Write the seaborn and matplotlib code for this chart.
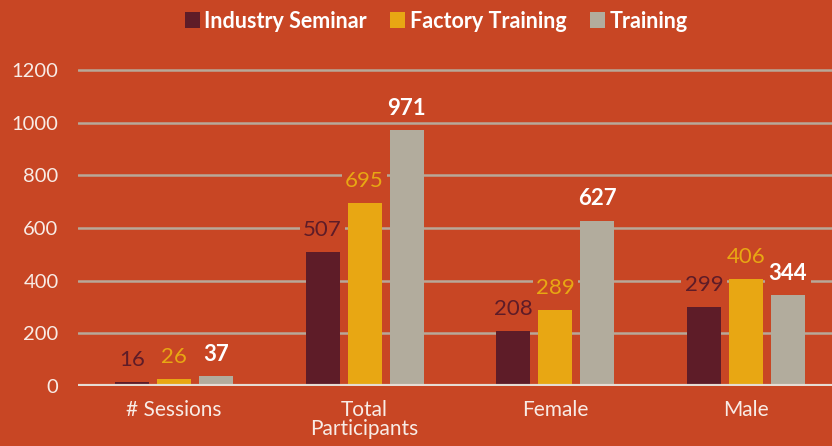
import matplotlib
matplotlib.use("Agg")
import matplotlib.pyplot as plt
import seaborn as sns
import pandas as pd

categories = ["# Sessions", "Total\nParticipants", "Female", "Male"]
series = ["Industry Seminar", "Factory Training", "Training"]
industry_seminar = [16, 507, 208, 299]
factory_training = [26, 695, 289, 406]
training = [37, 971, 627, 344]

BG = "#C84624"
colors = ["#5E1C28", "#E8A713", "#B2AC9D"]
label_colors = ["#5E1C28", "#E8A713", "#FFFFFF"]
label_weights = ["normal", "normal", "bold"]

rows = []
for s, vals in zip(series, [industry_seminar, factory_training, training]):
    for c, v in zip(categories, vals):
        rows.append({"category": c, "series": s, "value": v})
df = pd.DataFrame(rows)

sns.set_style("white")
plt.rcParams["font.family"] = ["Lato", "DejaVu Sans"]

fig = plt.figure(figsize=(8.32, 4.46), dpi=100, facecolor=BG)
ax = fig.add_axes([78 / 832, 1 - 386 / 446, 1 - 78 / 832, (386 - 70) / 446 * (1300 / 1200)])
ax.set_facecolor(BG)

sns.barplot(data=df, x="category", y="value", hue="series", order=categories,
            hue_order=series, palette=colors, width=0.66, gap=0.19,
            saturation=1, ax=ax, legend=False, zorder=2,
            edgecolor="none", linewidth=0)

ax.set_xlim(-0.503, 3.451)
ax.set_ylim(0, 1300)
ax.set_yticks(range(0, 1201, 200))
ax.yaxis.grid(True, color="#B8A898", linewidth=1.8, zorder=0)
ax.set_axisbelow(True)
for sp in ax.spines.values():
    sp.set_visible(False)
ax.axhline(0, color="#E6DCD4", linewidth=3, zorder=3)

ax.tick_params(axis="y", length=0, pad=14, labelsize=14.5, labelcolor="#F8ECE6")
ax.tick_params(axis="x", length=0, pad=10, labelsize=15, labelcolor="#F8ECE6")
ax.set_xlabel("")
ax.set_ylabel("")
for t in ax.get_xticklabels():
    t.set_linespacing(0.95)

for i, container in enumerate(ax.containers):
    for bar, v in zip(container, [industry_seminar, factory_training, training][i]):
        x = bar.get_x() + bar.get_width() / 2
        y = bar.get_height()
        ax.annotate(f"{v}", (x, y), xytext=(0, 16), textcoords="offset points",
                    ha="center", va="center", fontsize=16, color=label_colors[i],
                    fontweight=label_weights[i], zorder=5,
                    bbox=dict(boxstyle="square,pad=0.15", fc=BG, ec="none"))

# legend
from matplotlib.patches import Patch
handles = [Patch(facecolor=c, edgecolor="none") for c in colors]
leg = fig.legend(handles, series, loc="center", bbox_to_anchor=(436 / 832, 1 - 21 / 446),
                 ncol=3, frameon=False, handlelength=0.7, handleheight=0.7,
                 handletextpad=0.2, columnspacing=1.1,
                 prop={"size": 15.5, "weight": "bold"})
for t in leg.get_texts():
    t.set_color("white")

fig.savefig("out.png", dpi=100, facecolor=BG)
